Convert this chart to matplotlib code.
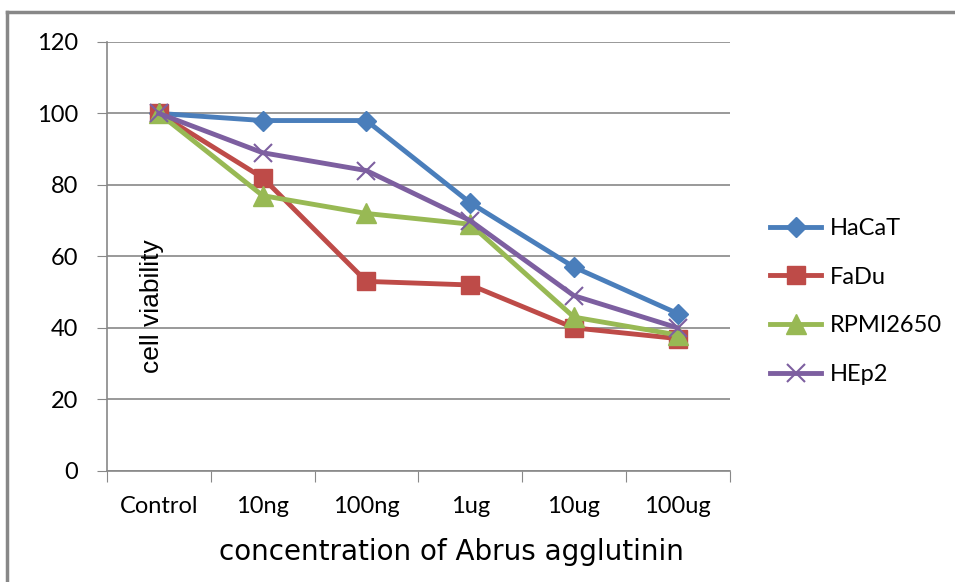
import matplotlib
matplotlib.use('Agg')
import matplotlib.pyplot as plt
from matplotlib.lines import Line2D

# data
categories = ['Control', '10ng', '100ng', '1ug', '10ug', '100ug']
hacat = [100, 98, 98, 75, 57, 44]
fadu = [100, 82, 53, 52, 40, 37]
rpmi2650 = [100, 77, 72, 69, 43, 38]
hep2 = [100, 89, 84, 70, 49, 40]
yticks = [0, 20, 40, 60, 80, 100, 120]

tick_font = 'Lato'

fig = plt.figure(figsize=(9.55, 5.82), dpi=100)
ax = fig.add_axes([0.112, 0.191, 0.652, 0.737])

x = range(len(categories))
ax.plot(x, hacat, color='#4a7ebb', lw=3.5, marker='D', ms=10, label='HaCaT')
ax.plot(x, fadu, color='#be4b48', lw=3.5, marker='s', ms=13, label='FaDu')
ax.plot(x, rpmi2650, color='#98b954', lw=3.5, marker='^', ms=14, label='RPMI2650')
ax.plot(x, hep2, color='#7d5fa0', lw=3.5, marker='x', ms=13, mew=1.5, label='HEp2')

ax.set_xlim(-0.5, len(categories) - 0.5)
ax.set_ylim(0, 120)
ax.set_yticks(yticks)
ax.set_xticks([i - 0.5 for i in range(len(categories) + 1)], minor=False)
ax.set_xticklabels([''] * (len(categories) + 1))
ax.set_xticks(list(x), minor=True)
ax.set_xticklabels(categories, minor=True, fontsize=17, family=tick_font)
ax.tick_params(axis='x', which='minor', length=0, pad=18)
ax.tick_params(axis='x', which='major', length=8, color='#888888', direction='out')
ax.tick_params(axis='y', length=7, color='#888888', labelsize=17, pad=14)
for lbl in ax.get_yticklabels():
    lbl.set_family(tick_font)

ax.grid(axis='y', color='#888888', lw=1.2)
ax.set_axisbelow(True)
for side in ['top', 'right']:
    ax.spines[side].set_visible(False)
for side in ['left', 'bottom']:
    ax.spines[side].set_color('#888888')
    ax.spines[side].set_linewidth(1.2)

ax.text(0.072, 0.385, 'cell viability', transform=ax.transAxes, rotation=90,
        ha='center', va='center', fontsize=19, family='Liberation Sans')
ax.set_xlabel('concentration of Abrus agglutinin', fontsize=20,
              family='DejaVu Sans', va='center')
ax.xaxis.set_label_coords(0.554, -0.19)

leg = ax.legend(loc='center left', bbox_to_anchor=(1.03, 0.395), frameon=False,
                handlelength=2.2, labelspacing=1.17, handletextpad=0.35,
                prop={'family': tick_font, 'size': 17})

# outer chart border (top and left visible)
fig.add_artist(Line2D([7 / 955, 7 / 955], [0, 1 - 12 / 582], color='#888888', lw=2.5))
fig.add_artist(Line2D([7 / 955, 1], [1 - 12 / 582, 1 - 12 / 582], color='#888888', lw=2.5))

fig.savefig('out.png', dpi=100)
